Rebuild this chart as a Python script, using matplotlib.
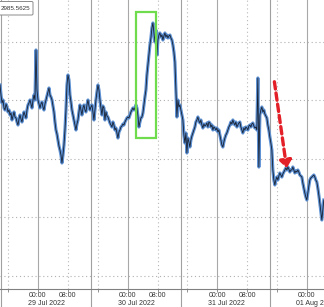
import matplotlib
matplotlib.use("Agg")
import matplotlib.pyplot as plt
import matplotlib.dates as mdates
from matplotlib.patches import Rectangle, FancyArrowPatch, FancyBboxPatch
import pandas as pd

# ---- data ----
start_time = "2022-07-28 13:50"
sample_step = "963s"
price = [
23775,23725,23685,23700,23660,23650,23680,23665,23640,23650,23625,23635,23600,23620,23640,23615,
23610,23590,23575,23605,23625,23605,23590,23620,23640,23625,23610,23650,23675,23685,23700,23680,
23660,23700,23725,23700,23950,23750,23700,23680,23660,23680,23690,23665,23650,23680,23700,23720,
23740,23760,23725,23715,23700,23670,23640,23590,23550,23530,23500,23470,23450,23425,23385,23425,
23475,23550,23650,23775,23825,23800,23725,23690,23650,23625,23600,23575,23550,23580,23600,23640,
23675,23650,23625,23660,23675,23650,23640,23675,23700,23670,23650,23665,23675,23640,23600,23650,
23700,23740,23775,23750,23700,23660,23625,23670,23660,23600,23640,23620,23615,23600,23585,23575,
23565,23590,23575,23550,23560,23535,23510,23540,23550,23565,23570,23580,23575,23590,23600,23610,
23615,23610,23625,23640,23650,23660,23650,23660,23675,23660,23620,23565,23590,23610,23615,23635,
23675,23715,23750,23825,23875,23925,23975,24010,24060,24085,24035,23990,24050,23925,24000,24025,
24035,24015,24025,24000,24020,24035,24015,24025,24010,24020,24025,24010,24000,23975,23940,23890,
23750,23615,23700,23665,23675,23650,23625,23600,23525,23485,23535,23435,23510,23490,23465,23500,
23520,23535,23550,23565,23590,23600,23615,23595,23585,23600,23575,23560,23580,23570,23575,23585,
23565,23590,23585,23565,23575,23550,23565,23560,23550,23560,23540,23550,23525,23500,23475,23465,
23490,23510,23525,23535,23550,23565,23575,23590,23580,23600,23585,23575,23590,23565,23575,23585,
23590,23565,23550,23535,23560,23550,23565,23560,23550,23570,23575,23565,23580,23585,23570,23560,
23565,23550,23810,23365,23625,23650,23665,23640,23650,23630,23620,23610,23575,23550,23515,23485,
23450,23350,23300,23275,23300,23315,23300,23320,23335,23325,23315,23330,23340,23350,23360,23350,
23365,23355,23340,23350,23350,23365,23350,23335,23345,23340,23350,23340,23325,23320,23315,23285,
23260,23235,23215,23200,23235,23270,23300,23310,23315,23320,23325,23315,23300,23290,23260,23225,
23185,23140,23100,23150,23200,
]
last_label = "2985.5625"
y_grid = [23990, 23700, 23405, 23115, 22820]
x_range = ["2022-07-28 13:50", "2022-08-01 04:33"]
y_range = [22755, 24200]
separators = ["2022-07-28 14:10", "2022-07-29 14:10", "2022-07-30 14:10", "2022-07-31 14:10"]
date_labels = ["29 Jul 2022", "30 Jul 2022", "31 Jul 2022", "01 Aug 2022"]
date_label_pos = ["2022-07-29 02:20", "2022-07-30 02:20", "2022-07-31 02:20", "2022-08-01 02:20"]
box_x = ["2022-07-30 02:14", "2022-07-30 07:30"]
box_y = [23510, 24140]
arrow_x = ["2022-07-31 15:10", "2022-07-31 18:40"]
arrow_y = [23805, 23345]

FONT = ["Liberation Sans", "DejaVu Sans"]
times = pd.date_range(start_time, periods=len(price), freq=sample_step)

W, H = 324, 307
fig = plt.figure(figsize=(W / 100, H / 100), dpi=100)
ax = fig.add_axes([0, 18 / H, 1, 289 / H])
ax.set_xlim(pd.Timestamp(x_range[0]), pd.Timestamp(x_range[1]))
ax.set_ylim(*y_range)

# grid
for yv in y_grid:
    ax.axhline(yv, color="#b0b0b0", lw=0.8, ls=(0, (1, 2.5)), zorder=1)
for d in pd.date_range("2022-07-28 16:00", "2022-08-01 04:00", freq="8h"):
    if d.hour == 0:
        ax.axvline(d, color="#a8a8a8", lw=0.8, zorder=1)
    else:
        ax.axvline(d, color="#b8b8b8", lw=0.8, ls=(0, (1, 2.5)), zorder=1)
for s in separators:
    ax.axvline(pd.Timestamp(s), ymin=-18 / 289, ymax=1, color="#a0a0a0", lw=0.8,
               clip_on=False, zorder=1)

# price line
ax.plot(times, price, color="#5f92d4", lw=2.3, zorder=3)
ax.plot(times, price, color="#172030", lw=0.6, zorder=4)

# annotations
bx0, bx1 = mdates.date2num(pd.Timestamp(box_x[0])), mdates.date2num(pd.Timestamp(box_x[1]))
ax.add_patch(Rectangle((bx0, box_y[0]), bx1 - bx0, box_y[1] - box_y[0], fill=False,
                       edgecolor="#6fdc4e", lw=1.6, zorder=5))
arr = FancyArrowPatch((mdates.date2num(pd.Timestamp(arrow_x[0])), arrow_y[0]),
                      (mdates.date2num(pd.Timestamp(arrow_x[1])), arrow_y[1]),
                      arrowstyle="-|>,head_length=4.5,head_width=3.5", color="#e32028",
                      lw=2.4, ls=(0, (2.2, 1.2)), mutation_scale=1, zorder=6)
ax.add_patch(arr)

# axes styling
for sp in ["top", "left", "right"]:
    ax.spines[sp].set_visible(False)
ax.spines["bottom"].set_color("#808080")
ax.spines["bottom"].set_linewidth(0.8)
ax.set_yticks([])
ax.xaxis.set_major_locator(mdates.HourLocator(byhour=[0, 8, 16]))
ax.xaxis.set_major_formatter(plt.FuncFormatter(
    lambda v, p: "" if mdates.num2date(v).hour == 16 else mdates.num2date(v).strftime("%H:%M")))
ax.tick_params(axis="x", length=2.2, width=0.6, color="#808080", pad=0.2,
               labelsize=5, labelcolor="#333333")
for lab in ax.get_xticklabels():
    lab.set_family(FONT)

for pos, txt in zip(date_label_pos, date_labels):
    ax.text(pd.Timestamp(pos), -14.5 / 289, txt, transform=ax.get_xaxis_transform(),
            ha="center", va="center", fontsize=5, color="#333333", clip_on=False,
            family=FONT)

# last-value label box (top-left, partly cut)
fig.patches.append(FancyBboxPatch((-3 / W, 1 - 15 / H), 36 / W, 13.5 / H,
                                  boxstyle="round,pad=0,rounding_size=0.004",
                                  transform=fig.transFigure, facecolor="white",
                                  edgecolor="#8a8a8a", lw=0.7, zorder=10))
fig.text(15.5 / W, 1 - 8 / H, last_label, ha="center", va="center", fontsize=4.5,
         color="#333333", family=FONT, zorder=11)

fig.savefig("out.png", dpi=100)
